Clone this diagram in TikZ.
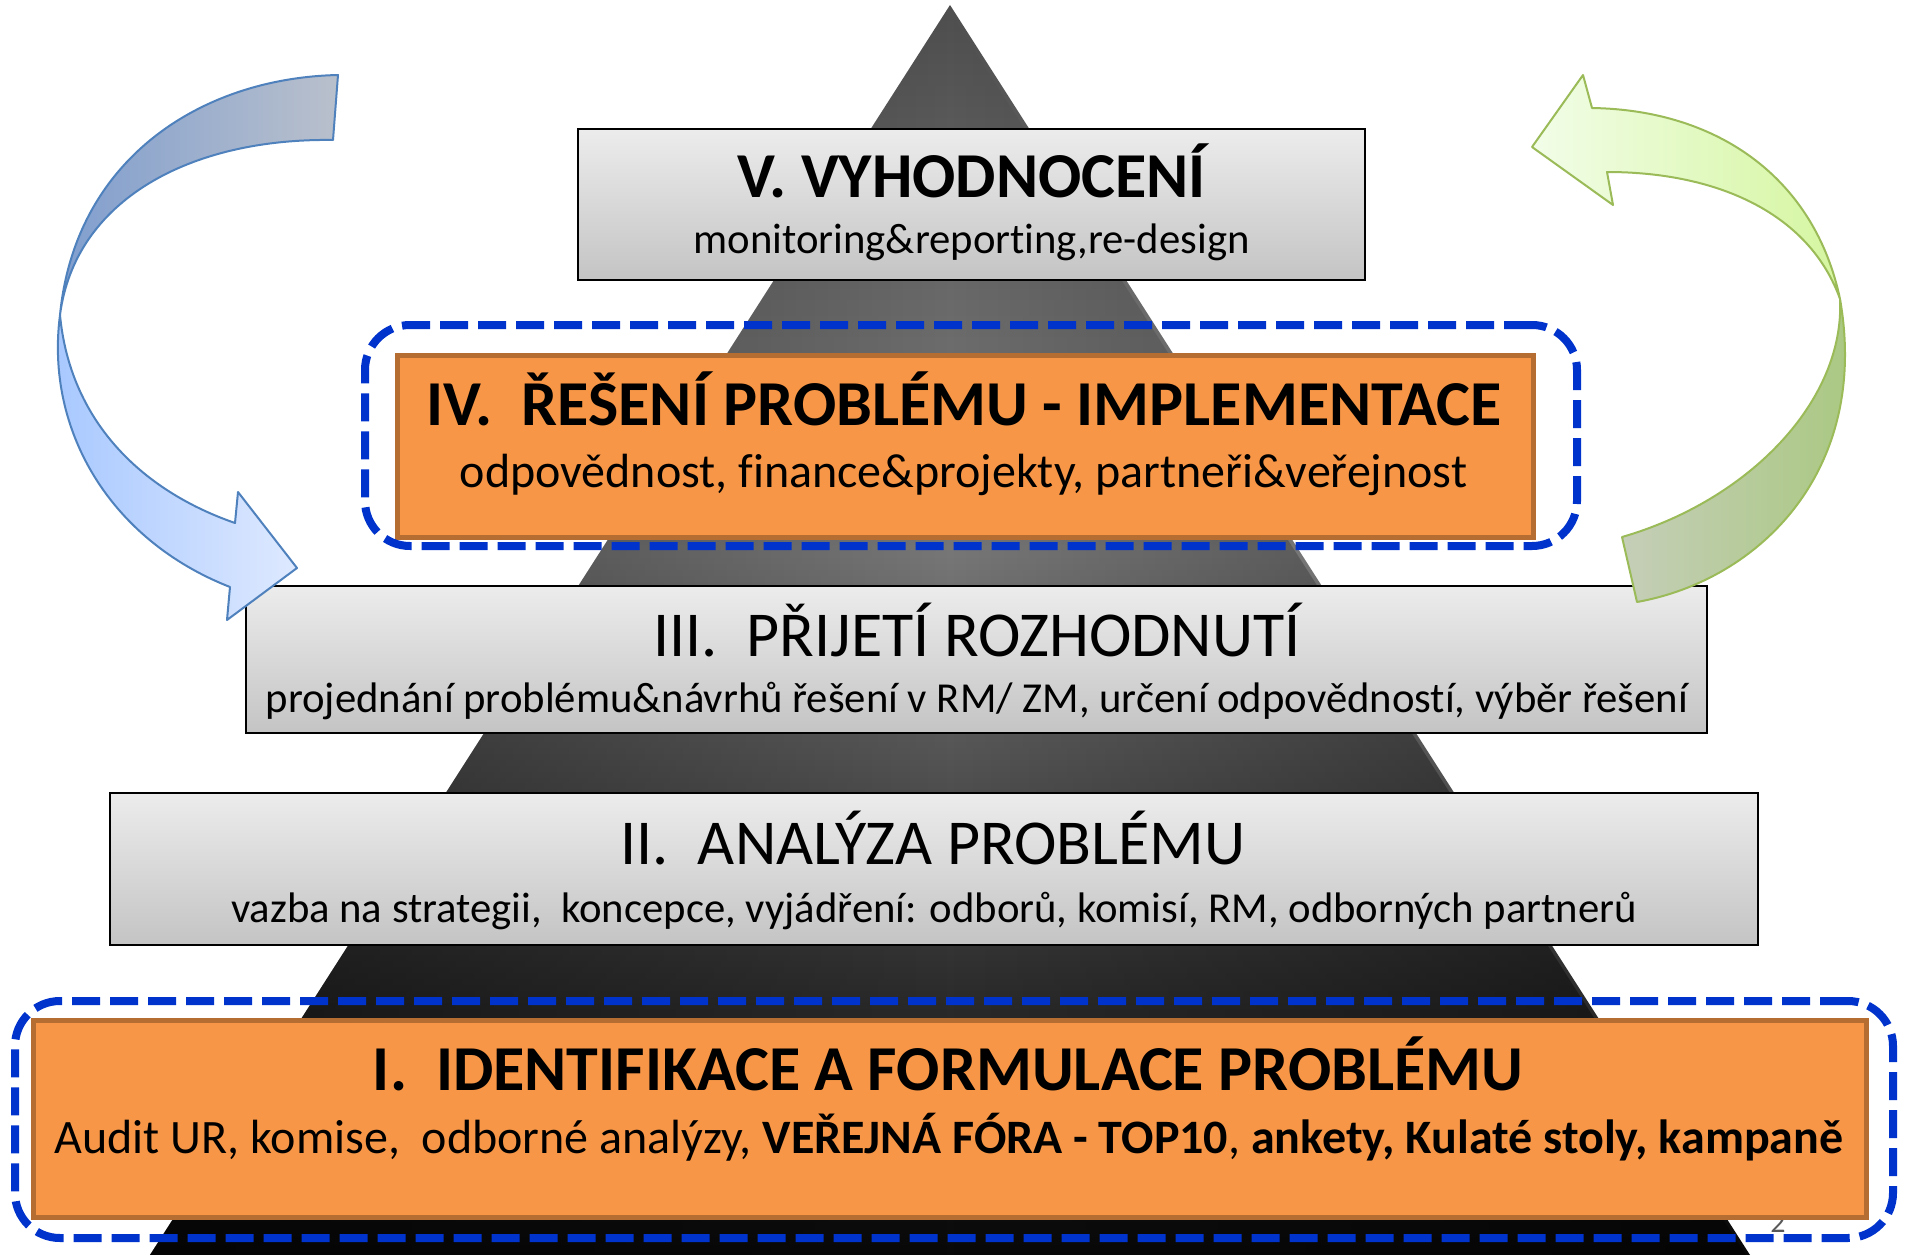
\documentclass[tikz,border=0pt]{standalone}
\usepackage{fontspec}
\setmainfont[Ligatures={NoCommon}]{Carlito}
\usetikzlibrary{fadings}
\definecolor{orfill}{RGB}{247,150,70}
\definecolor{ordraw}{RGB}{182,109,49}
\definecolor{dblue}{RGB}{0,51,204}
\definecolor{gtop}{RGB}{236,236,236}
\definecolor{gbot}{RGB}{196,196,196}
\definecolor{pa}{RGB}{8,8,8}
\definecolor{pb}{RGB}{42,42,42}
\definecolor{pc}{RGB}{80,80,80}
\definecolor{pd}{RGB}{118,118,118}
\definecolor{pe}{RGB}{106,106,106}
\definecolor{pf}{RGB}{78,78,78}
\definecolor{lbA}{RGB}{128,158,206}
\definecolor{lbB}{RGB}{185,192,204}
\definecolor{lbC}{RGB}{166,199,255}
\definecolor{lbD}{RGB}{222,233,255}
\definecolor{lbS}{RGB}{79,129,189}
\definecolor{grA}{RGB}{242,253,232}
\definecolor{grB}{RGB}{213,246,160}
\definecolor{grC}{RGB}{197,206,184}
\definecolor{grD}{RGB}{168,200,126}
\definecolor{grS}{RGB}{155,187,89}
\definecolor{numgray}{RGB}{89,89,89}
\pgfdeclareverticalshading{pyr}{100bp}{color(0bp)=(pa); color(25bp)=(pa); color(35bp)=(pb); color(44bp)=(pc); color(53bp)=(pd); color(63bp)=(pe); color(75bp)=(pf); color(100bp)=(pf)}
\tikzfading[name=pyrsides, left color=transparent!50, right color=transparent!50, middle color=transparent!100]
\tikzset{
  graybox/.style={draw=black, line width=2.5pt, top color=gtop, bottom color=gbot, inner sep=0pt},
  orbox/.style={draw=ordraw, line width=5pt, fill=orfill, inner sep=0pt},
  dashbox/.style={draw=dblue, line width=8pt, dash pattern=on 28pt off 10pt, rounded corners=45pt, inner sep=0pt},
  ttlb/.style={font=\fontsize{64}{72}\selectfont\bfseries, anchor=base, inner sep=0pt},
  ttlr/.style={font=\fontsize{64}{72}\selectfont, anchor=base, inner sep=0pt},
  subt/.style={font=\fontsize{42.7}{50}\selectfont, anchor=base, inner sep=0pt},
  subO/.style={font=\fontsize{48}{54}\selectfont, anchor=base, inner sep=0pt},
  blueband/.style={draw=lbS, line width=2pt, line join=round},
  greenband/.style={draw=grS, line width=2pt, line join=round}
}
\begin{document}
\begin{tikzpicture}[x=1pt,y=-1pt]
\useasboundingbox (0,0) rectangle (1908,1255);
% pyramid
\coordinate (apex) at (950,5);
\coordinate (bl) at (150,1255);
\coordinate (br) at (1750,1255);
\shade[shading=pyr] (apex) -- (br) -- (bl) -- cycle;
\fill[black, path fading=pyrsides] (apex) -- (br) -- (bl) -- cycle;
% slide number
\node[anchor=base, inner sep=0pt, text=numgray, font=\fontsize{30}{36}\selectfont] (num) at (1778,1232) {2};
% boxes
\node[graybox, minimum width=787pt, minimum height=151pt] (bV) at (971.5,204.5) {};
\node[orbox, minimum width=1136pt, minimum height=182pt] (bIV) at (965,446) {};
\node[graybox, minimum width=1461pt, minimum height=147pt] (bIII) at (976.5,659.5) {};
\node[graybox, minimum width=1648pt, minimum height=152pt] (bII) at (934,869) {};
\node[orbox, minimum width=1833pt, minimum height=197pt] (bI) at (949.5,1118.5) {};
% texts
\node[ttlb] (tV) at (972,197) {V. VYHODNOCENÍ};
\node[subt] (sV) at (971.5,253) {monitoring\&reporting,re-design};
\node[ttlb] (tIV) at (964,425) {IV.\ \ ŘEŠENÍ PROBLÉMU - IMPLEMENTACE};
\node[subO] (sIV) at (963.5,487) {odpovědnost, finance\&projekty, partneři\&veřejnost};
\node[ttlr] (tIII) at (977,656) {III.\ \ PŘIJETÍ ROZHODNUTÍ};
\node[subt] (sIII) at (977,712) {projednání problému\&návrhů řešení v RM/ ZM, určení odpovědností, výběr řešení};
\node[ttlr] (tII) at (933,864) {II.\ \ ANALÝZA PROBLÉMU};
\node[subt] (sII) at (934,922) {vazba na strategii,\ \ koncepce, vyjádření: odborů, komisí, RM, odborných partnerů};
\node[ttlb] (tI) at (948,1090) {I.\ \ IDENTIFIKACE A FORMULACE PROBLÉMU};
\node[subO] (sI) at (949,1153) {Audit UR, komise,\ \ odborné analýzy, \textbf{VEŘEJNÁ FÓRA - TOP10}, \textbf{ankety, Kulaté stoly, kampaně}};
% dashed frames
\node[dashbox, minimum width=1212pt, minimum height=221pt] (dIV) at (971,435.5) {};
\node[dashbox, minimum width=1878pt, minimum height=237pt] (dI) at (954,1119.5) {};
% left arrow
\coordinate (lw) at (60,315);
\path[blueband, left color=lbA, right color=lbB] (338,75) .. controls (200,78) and (75,160) .. (lw) .. controls (75,200) and (190,138) .. (333,140) -- cycle;
\path[blueband, left color=lbC, right color=lbD] (lw) .. controls (45,430) and (110,540) .. (230,587) -- (227,620) -- (297,568) -- (238,492) -- (235,523) .. controls (140,490) and (70,420) .. (lw) -- cycle;
% right arrow
\coordinate (rw) at (1840,299);
\path[greenband, left color=grC, right color=grD] (1637,602) .. controls (1760,580) and (1870,470) .. (rw) .. controls (1845,400) and (1750,500) .. (1622,537) -- cycle;
\path[greenband, left color=grA, right color=grB] (rw) .. controls (1815,180) and (1720,110) .. (1592,108) -- (1583,75) -- (1532,147) -- (1613,205) -- (1607,172) .. controls (1720,172) and (1810,215) .. (rw) -- cycle;
\end{tikzpicture}
\end{document}
